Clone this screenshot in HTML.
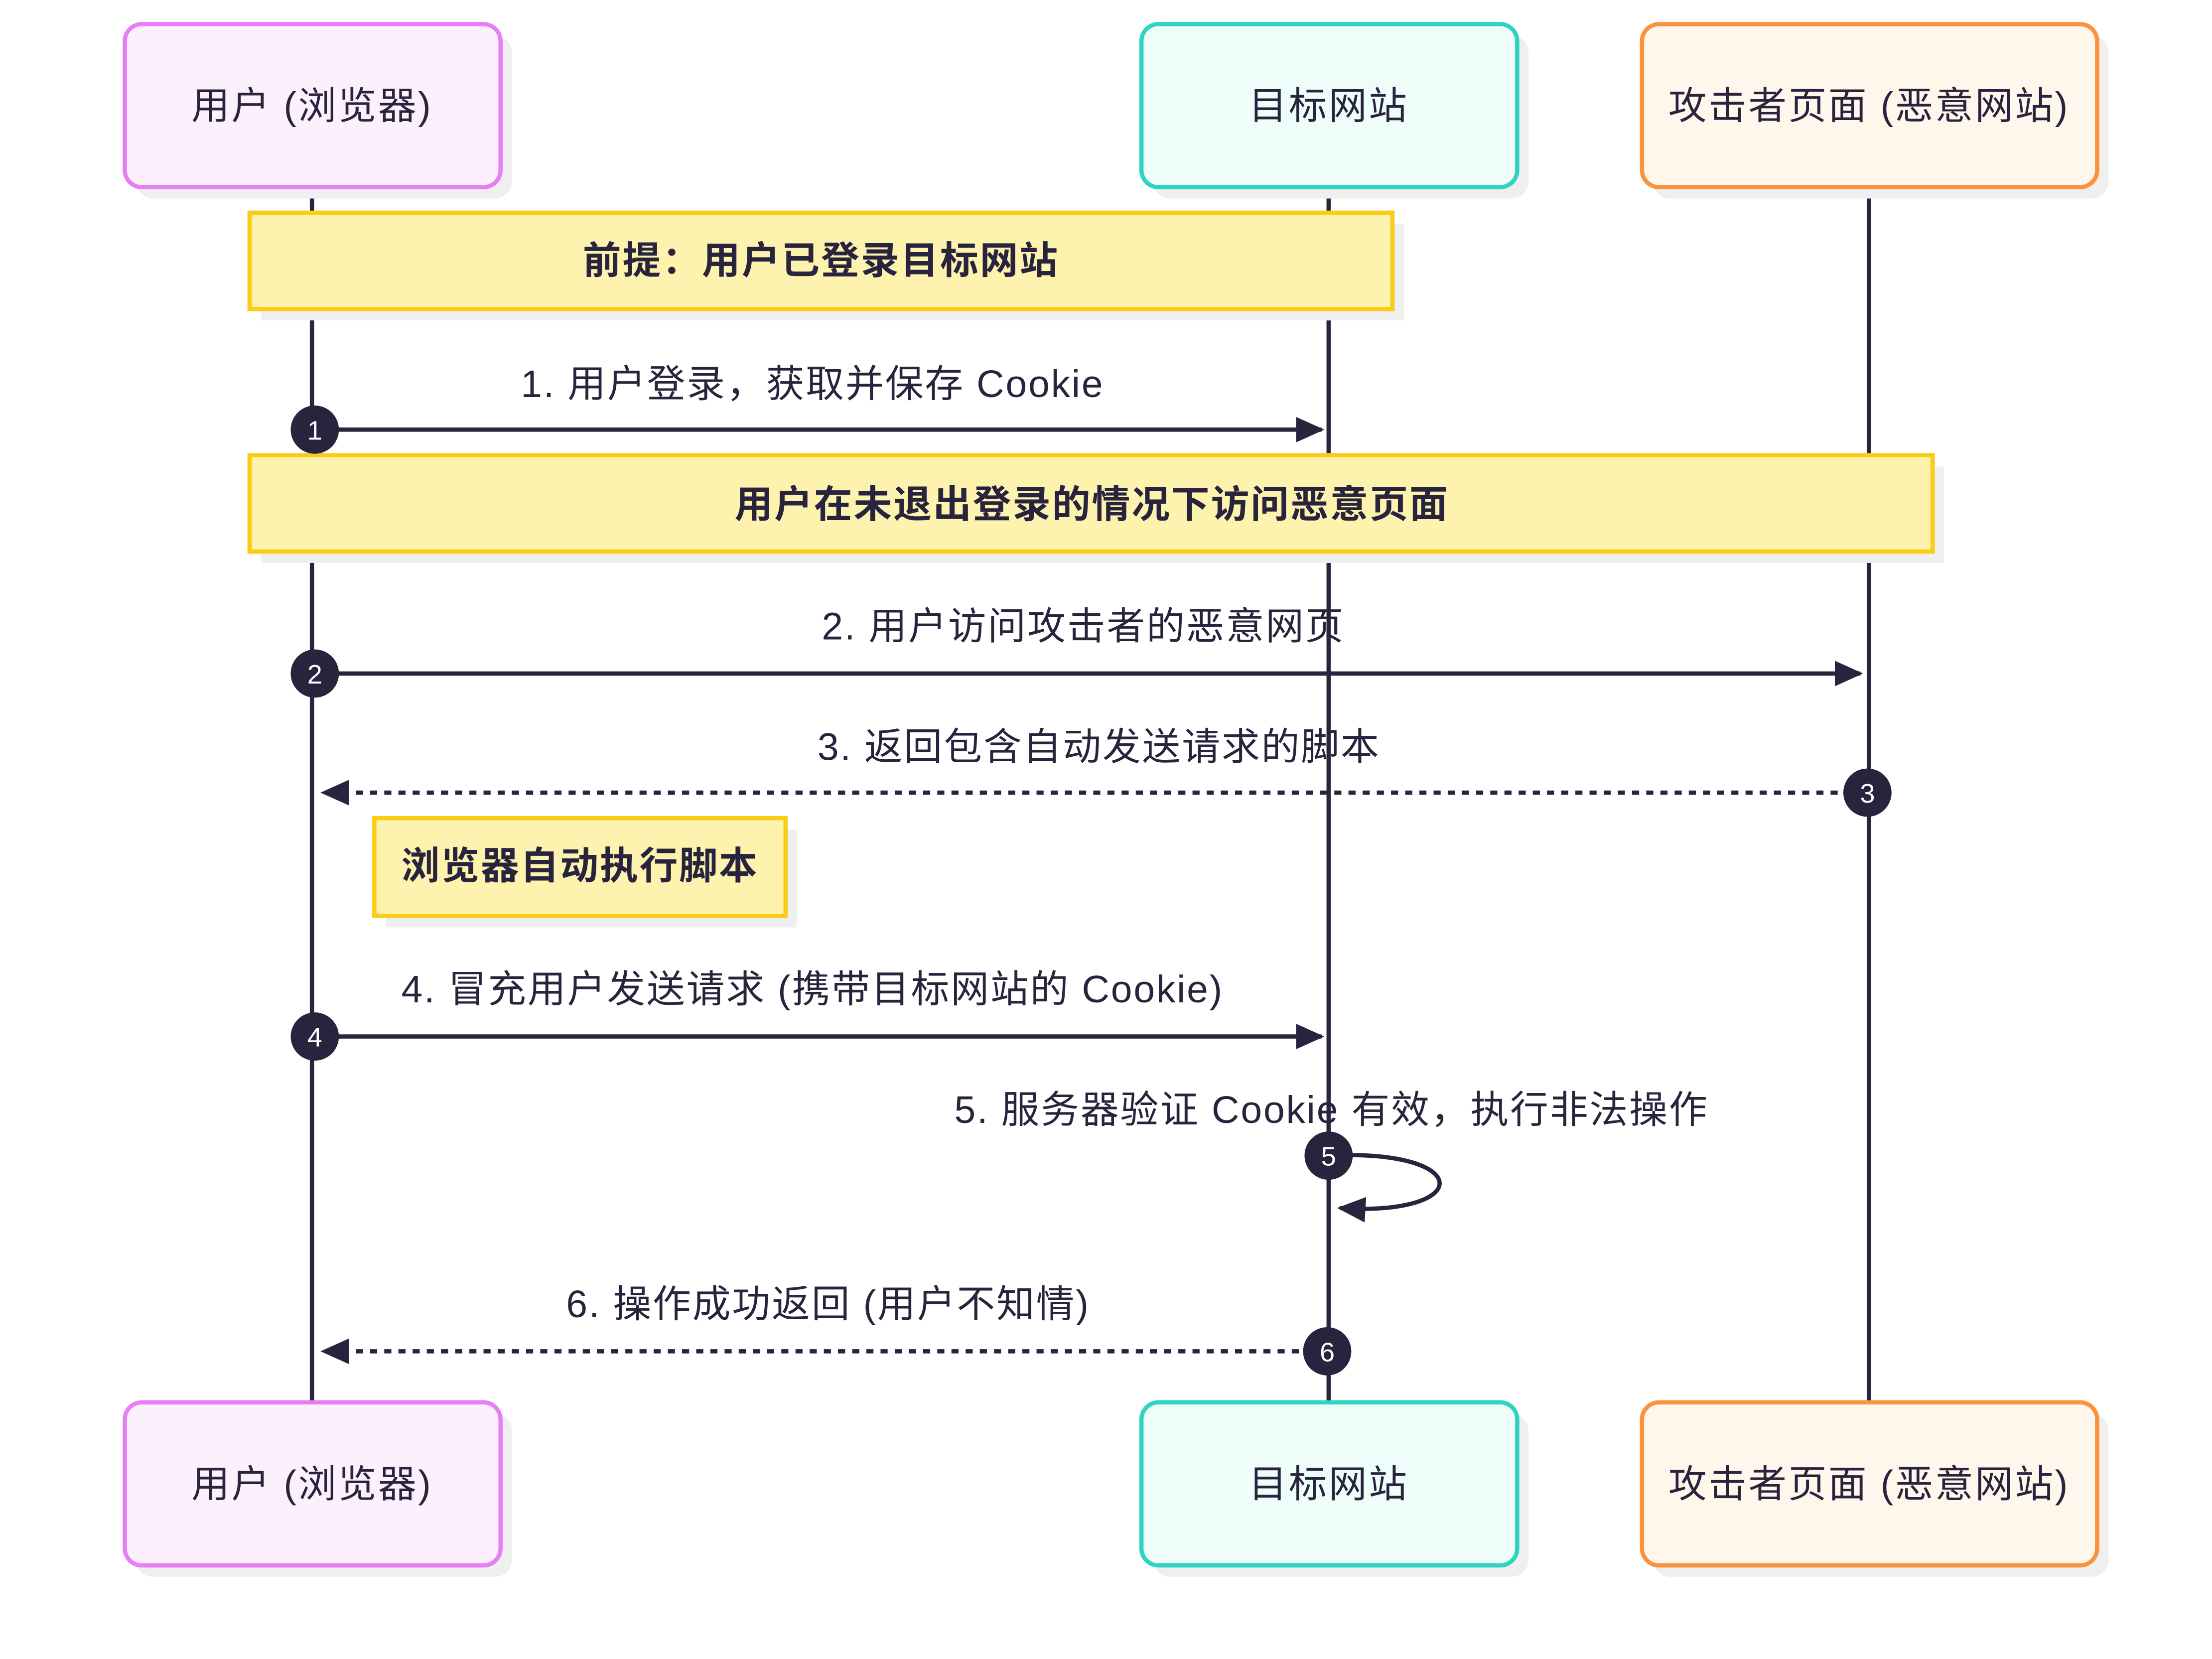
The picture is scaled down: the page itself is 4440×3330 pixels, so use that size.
<!DOCTYPE html>
<html><head><meta charset="utf-8"><style>
html,body{margin:0;padding:0;background:#fff;}
svg{display:block;}
text{font-family:"Liberation Sans","Noto Sans CJK SC",sans-serif;fill:#28243d;}
</style></head><body>
<svg width="4440" height="3330" viewBox="0 0 1560 1170" xmlns="http://www.w3.org/2000/svg">
<defs>
<marker id="ah2" markerWidth="20" markerHeight="18" refX="18" refY="9" orient="auto" markerUnits="userSpaceOnUse">
<path d="M0,0 L20,9 L0,18 z" fill="#28243d"/></marker>
</defs>
<g stroke="#28243d" stroke-width="3">
<line x1="220" y1="132" x2="220" y2="989"/>
<line x1="937" y1="132" x2="937" y2="989"/>
<line x1="1318" y1="132" x2="1318" y2="989"/>
</g>
<g>
<rect x="96" y="25" width="265" height="115" rx="12" fill="#efefef"/>
<rect x="88" y="17" width="265" height="115" rx="12" fill="#fdf0fd" stroke="#e67ef5" stroke-width="3"/>
<rect x="813" y="25" width="265" height="115" rx="12" fill="#efefef"/>
<rect x="805" y="17" width="265" height="115" rx="12" fill="#effdfa" stroke="#2dd4bf" stroke-width="3"/>
<rect x="1166" y="25" width="321" height="115" rx="12" fill="#efefef"/>
<rect x="1158" y="17" width="321" height="115" rx="12" fill="#fff6ec" stroke="#fb923c" stroke-width="3"/>
<rect x="96" y="997" width="265" height="115" rx="12" fill="#efefef"/>
<rect x="88" y="989" width="265" height="115" rx="12" fill="#fdf0fd" stroke="#e67ef5" stroke-width="3"/>
<rect x="813" y="997" width="265" height="115" rx="12" fill="#efefef"/>
<rect x="805" y="989" width="265" height="115" rx="12" fill="#effdfa" stroke="#2dd4bf" stroke-width="3"/>
<rect x="1166" y="997" width="321" height="115" rx="12" fill="#efefef"/>
<rect x="1158" y="989" width="321" height="115" rx="12" fill="#fff6ec" stroke="#fb923c" stroke-width="3"/>
</g>
<g font-size="27" text-anchor="middle" letter-spacing="1.2">
<text x="220" y="84">用户 (浏览器)</text>
<text x="937" y="84">目标网站</text>
<text x="1318" y="84">攻击者页面 (恶意网站)</text>
<text x="220" y="1056">用户 (浏览器)</text>
<text x="937" y="1056">目标网站</text>
<text x="1318" y="1056">攻击者页面 (恶意网站)</text>
</g>
<rect x="184" y="158" width="806" height="68" fill="#efefef"/>
<rect x="176" y="150" width="806" height="68" fill="#fef3ae" stroke="#facc15" stroke-width="3"/>
<text x="579" y="193" font-size="27" font-weight="bold" text-anchor="middle" letter-spacing="1">前提：用户已登录目标网站</text>
<rect x="184" y="329" width="1187" height="68" fill="#efefef"/>
<rect x="176" y="321" width="1187" height="68" fill="#fef3ae" stroke="#facc15" stroke-width="3"/>
<text x="770" y="365" font-size="27" font-weight="bold" text-anchor="middle" letter-spacing="1">用户在未退出登录的情况下访问恶意页面</text>
<rect x="272" y="585" width="290" height="69" fill="#efefef"/>
<rect x="264" y="577" width="290" height="69" fill="#fef3ae" stroke="#facc15" stroke-width="3"/>
<text x="409" y="620" font-size="27" font-weight="bold" text-anchor="middle" letter-spacing="1">浏览器自动执行脚本</text>
<g stroke="#28243d" stroke-width="3" fill="none">
<line x1="222" y1="303" x2="932" y2="303" marker-end="url(#ah2)"/>
<line x1="222" y1="475" x2="1312" y2="475" marker-end="url(#ah2)"/>
<line x1="1316" y1="559" x2="228" y2="559" stroke-dasharray="5,5" marker-end="url(#ah2)"/>
<line x1="222" y1="731" x2="932" y2="731" marker-end="url(#ah2)"/>
<path d="M937,815 C1040,810 1040,858 945,852" marker-end="url(#ah2)"/>
<line x1="936" y1="953" x2="228" y2="953" stroke-dasharray="5,5" marker-end="url(#ah2)"/>
</g>
<g font-size="27" text-anchor="middle" letter-spacing="1">
<text x="573" y="280">1. 用户登录，获取并保存 Cookie</text>
<text x="764" y="451">2. 用户访问攻击者的恶意网页</text>
<text x="775" y="536">3. 返回包含自动发送请求的脚本</text>
<text x="573" y="707">4. 冒充用户发送请求 (携带目标网站的 Cookie)</text>
<text x="939" y="792">5. 服务器验证 Cookie 有效，执行非法操作</text>
<text x="584" y="929">6. 操作成功返回 (用户不知情)</text>
</g>
<g fill="#28243d">
<circle cx="222" cy="303" r="17"/><circle cx="222" cy="475" r="17"/><circle cx="1317" cy="559" r="17"/>
<circle cx="222" cy="731" r="17"/><circle cx="937" cy="815" r="17"/><circle cx="936" cy="953" r="17"/>
</g>
<g font-size="19" text-anchor="middle">
<text x="222" y="310" style="fill:#fff">1</text><text x="222" y="482" style="fill:#fff">2</text>
<text x="1317" y="566" style="fill:#fff">3</text><text x="222" y="738" style="fill:#fff">4</text>
<text x="937" y="822" style="fill:#fff">5</text><text x="936" y="960" style="fill:#fff">6</text>
</g>
</svg>
</body></html>
